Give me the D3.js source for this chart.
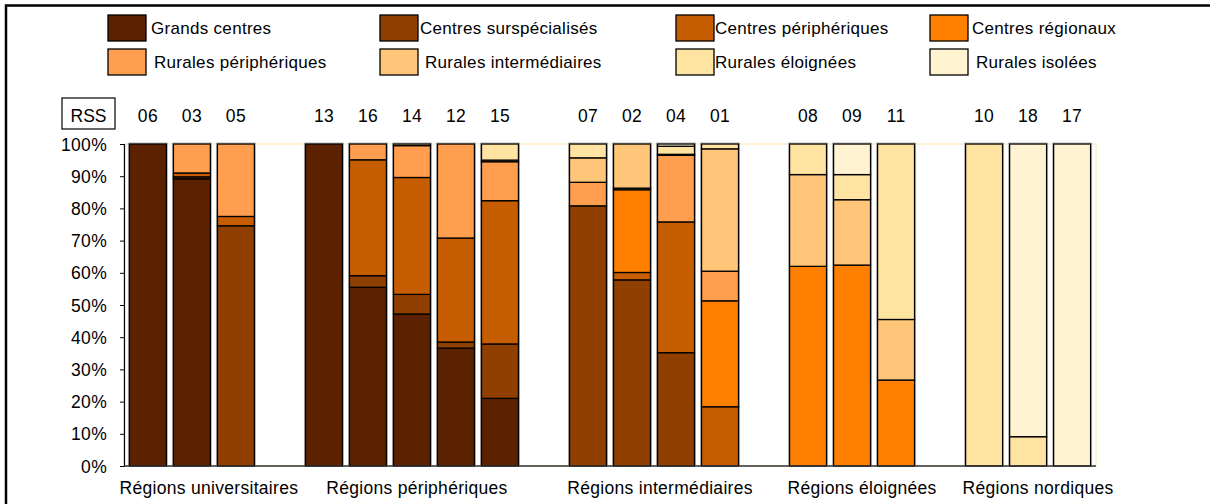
<!DOCTYPE html>
<meta charset="utf-8">
<style>
  body { margin: 0; background: #fff; }
  svg text { font-family: "Liberation Sans", Arial, sans-serif; fill: #000; }
</style>
<script src="https://d3js.org/d3.v7.min.js"></script>
<body>
<script>

// categories (bottom to top of each stack)
var SERIES = ["Grands centres", "Centres surspécialisés", "Centres périphériques", "Centres régionaux",
              "Rurales périphériques", "Rurales intermédiaires", "Rurales éloignées", "Rurales isolées"];
var COLORS = ["#5c2200", "#8f3f00", "#c65d00", "#ff8000", "#ff9e4f", "#ffc67a", "#ffe3a0", "#fff3d1"];

var RSS = ["06", "03", "05", "13", "16", "14", "12", "15", "07", "02", "04", "01", "08", "09", "11", "10", "18", "17"];
var GROUPS = ["Régions universitaires", "Régions périphériques", "Régions intermédiaires", "Régions éloignées", "Régions nordiques"];
var GROUP_SIZES = [3, 5, 4, 3, 3];

// shares in %, one array per series, in RSS order
var grands   = [100, 89.2, 0, 100, 55.5, 47.2, 36.6, 21.0, 0, 0, 0, 0, 0, 0, 0, 0, 0, 0];
var surspe   = [0, 0.6, 74.6, 0, 3.6, 6.1, 1.9, 16.9, 80.8, 57.8, 35.2, 0, 0, 0, 0, 0, 0, 0];
var periph   = [0, 1.2, 2.9, 0, 36.0, 36.3, 32.3, 44.5, 0, 2.3, 40.6, 18.4, 0, 0, 0, 0, 0, 0];
var regio    = [0, 0, 0, 0, 0, 0, 0, 0, 0, 25.7, 0, 32.9, 62.0, 62.4, 26.7, 0, 0, 0];
var ruPeriph = [0, 9.0, 22.5, 0, 4.9, 9.9, 29.2, 12.1, 7.3, 0.5, 20.7, 9.2, 0, 0, 0, 0, 0, 0];
var ruInter  = [0, 0, 0, 0, 0, 0.5, 0, 0.5, 7.6, 13.7, 0.3, 38.0, 28.5, 20.3, 18.8, 0, 0, 0];
var ruEloign = [0, 0, 0, 0, 0, 0, 0, 5.0, 4.3, 0, 2.5, 1.5, 9.5, 7.8, 54.5, 100, 9.1, 0];
var ruIsol   = [0, 0, 0, 0, 0, 0, 0, 0, 0, 0, 0.7, 0, 0, 9.5, 0, 0, 90.9, 100];

var Y_TICKS = d3.range(0, 101, 10);

var VALUES = [grands, surspe, periph, regio, ruPeriph, ruInter, ruEloign, ruIsol];

// label nudges under each group (layout only)
var GROUP_DX = [17, 5, 6, 10, 10];

var width = 1210, height = 504;
var svg = d3.select("body").append("svg")
    .attr("width", width)
    .attr("height", height);

// outer frame (only top and left edges fall inside the picture)
svg.append("rect")
    .attr("x", 6).attr("y", 5.5)
    .attr("width", 1400).attr("height", 800)
    .attr("fill", "none")
    .attr("stroke", "#000")
    .attr("stroke-width", 2.5);

// slot for each bar : one empty slot between groups
var groupOf = [];
GROUP_SIZES.forEach(function(n, g) { for (var k = 0; k < n; k++) groupOf.push(g); });
var slotOf = RSS.map(function(d, i) { return i + groupOf[i]; });
var nSlots = RSS.length + GROUPS.length - 1;

var x = d3.scaleBand()
    .domain(d3.range(nSlots))
    .range([125, 1095])
    .paddingInner(0.16)
    .paddingOuter(0.1);

var y = d3.scaleLinear()
    .domain([0, 100])
    .range([466, 144]);

// plot area border (pale)
svg.append("rect")
    .attr("x", 124).attr("y", y(100))
    .attr("width", 1096 - 124).attr("height", y(0) - y(100))
    .attr("fill", "none")
    .attr("stroke", "#fff0c8")
    .attr("stroke-width", 1.5);

// build stacks
var rows = RSS.map(function(r, i) {
  var o = { rss: r, slot: slotOf[i] };
  SERIES.forEach(function(s, j) { o[s] = VALUES[j][i]; });
  return o;
});
var stack = d3.stack().keys(SERIES)(rows);

// soft grey halo around each bar
svg.append("g").selectAll("rect")
    .data(rows)
    .enter().append("rect")
    .attr("x", function(d) { return x(d.slot) - 1; })
    .attr("y", y(100) - 1)
    .attr("width", x.bandwidth() + 2)
    .attr("height", y(0) - y(100) + 1)
    .attr("fill", "none")
    .attr("stroke", "#b8b8b8")
    .attr("stroke-width", 1);

var layer = svg.append("g").selectAll("g")
    .data(stack)
    .enter().append("g")
    .attr("fill", function(d, i) { return COLORS[i]; });

layer.selectAll("rect")
    .data(function(d) { return d.filter(function(p) { return p[1] - p[0] > 0; }); })
    .enter().append("rect")
    .attr("x", function(d) { return x(d.data.slot); })
    .attr("y", function(d) { return y(d[1]); })
    .attr("width", x.bandwidth())
    .attr("height", function(d) { return y(d[0]) - y(d[1]); })
    .attr("stroke", "#000")
    .attr("stroke-width", 1.3);

// y axis
var yAxis = svg.append("g")
    .attr("transform", "translate(124,0)")
    .call(d3.axisLeft(y).tickValues(Y_TICKS).tickSize(4).tickPadding(13)
          .tickFormat(function(d) { return d + "%"; }));
yAxis.select(".domain").attr("stroke", "#000").attr("stroke-width", 1.2);
yAxis.selectAll(".tick line").attr("stroke", "#000");
yAxis.selectAll("text")
    .attr("font-size", 17.5)
    .attr("letter-spacing", 0.3)
    .attr("dy", "0.35em")
    .style("font-family", "Liberation Sans, Arial, sans-serif");

// x axis line
svg.append("line")
    .attr("x1", 124).attr("x2", 1096)
    .attr("y1", y(0)).attr("y2", y(0))
    .attr("stroke", "#333")
    .attr("stroke-width", 1.5);

// RSS labels over the bars
svg.append("g").selectAll("text")
    .data(rows)
    .enter().append("text")
    .attr("x", function(d) { return x(d.slot) + x.bandwidth() / 2; })
    .attr("y", 121.5)
    .attr("text-anchor", "middle")
    .attr("font-size", 17.5)
    .attr("letter-spacing", 0.3)
    .text(function(d) { return d.rss; });

svg.append("rect")
    .attr("x", 62).attr("y", 98)
    .attr("width", 53).attr("height", 31)
    .attr("fill", "none")
    .attr("stroke", "#000")
    .attr("stroke-width", 1.2);
svg.append("text")
    .attr("x", 88.5).attr("y", 121.5)
    .attr("text-anchor", "middle")
    .attr("font-size", 17.5)
    .text("RSS");

// group labels
var start = 0;
GROUPS.forEach(function(g, gi) {
  var first = slotOf[start], last = slotOf[start + GROUP_SIZES[gi] - 1];
  var cx = (x(first) + x(last) + x.bandwidth()) / 2 + GROUP_DX[gi];
  svg.append("text")
      .attr("x", cx).attr("y", 494)
      .attr("text-anchor", "middle")
      .attr("font-size", 17.5)
      .attr("letter-spacing", 0.3)
      .text(g);
  start += GROUP_SIZES[gi];
});

// legend : 4 columns x 2 rows
var legendX = [108, 380, 676, 930];
var legendY = [15, 49];
var legendTextX = [43, 40, 39, 42, 46, 45, 39, 46];
var legend = svg.append("g").selectAll("g")
    .data(SERIES)
    .enter().append("g")
    .attr("transform", function(d, i) {
      return "translate(" + legendX[i % 4] + "," + legendY[Math.floor(i / 4)] + ")";
    });
legend.append("rect")
    .attr("width", 38).attr("height", 26)
    .attr("fill", function(d, i) { return COLORS[i]; })
    .attr("stroke", "#000")
    .attr("stroke-width", 1.3);
legend.append("text")
    .attr("x", function(d, i) { return legendTextX[i]; })
    .attr("y", 13)
    .attr("dy", "0.35em")
    .attr("font-size", 17)
    .attr("letter-spacing", 0.3)
    .text(function(d) { return d; });

</script>
</body>
